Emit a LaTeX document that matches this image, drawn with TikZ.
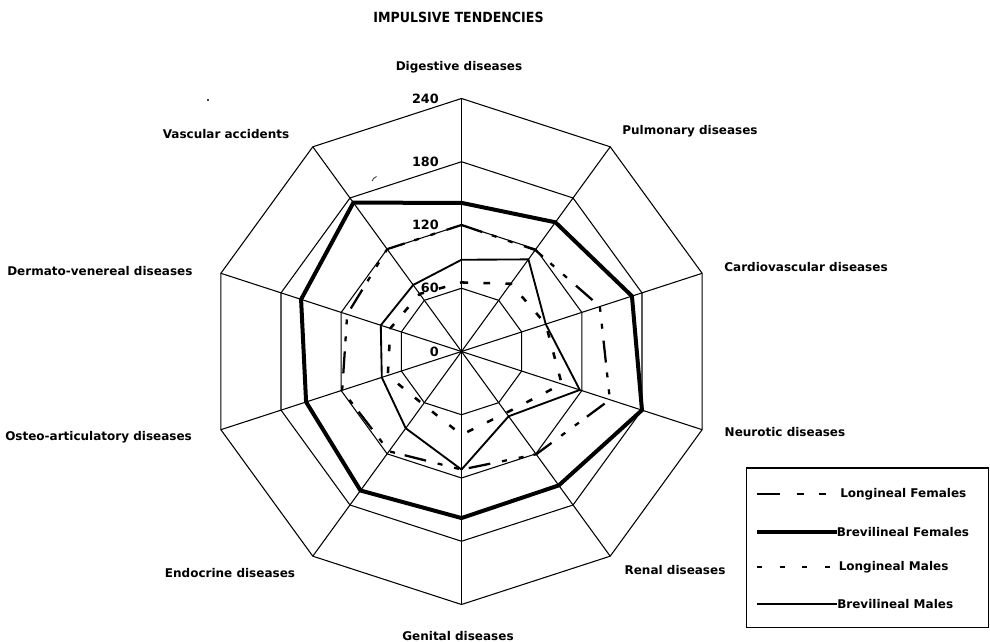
\documentclass[tikz,border=0pt]{standalone}
\usepackage{fontspec}
\setmainfont{DejaVu Sans}
\newfontfamily\titlefont{DejaVu Sans}[FakeStretch=0.9]
\begin{document}
\begin{tikzpicture}[x=0.75pt,y=0.75pt,
  grid/.style={line width=0.8pt, line join=miter},
  bfline/.style={line width=3pt, line join=miter},
  lfline/.style={line width=1.7pt, line join=miter,
    dash pattern=on 16.5pt off 7.5pt on 3.75pt off 9pt on 3.75pt off 9pt},
  lmline/.style={line width=1.9pt, line join=miter, dash pattern=on 5pt off 11.5pt},
  bmline/.style={line width=1.4pt, line join=miter},
  axislabel/.style={font=\fontsize{9}{10}\selectfont\bfseries, inner sep=0pt},
  ringlabel/.style={font=\fontsize{9.6}{10}\selectfont\bfseries, inner sep=0pt, anchor=east},
  legendtext/.style={font=\fontsize{9}{10}\selectfont\bfseries, inner sep=0pt, anchor=west},
]
\useasboundingbox (0,0) rectangle (990,642);

% title
\node[font=\titlefont\fontsize{10.5}{12}\selectfont\bfseries, inner sep=0pt] (title) at (458.5,625) {IMPULSIVE TENDENCIES};

% centre of the radar chart
\coordinate (O) at (461.5,290.5);

\begin{scope}[shift={(O)}, x=0.79065pt, y=0.79065pt]
  % spokes
  \foreach \a in {90,54,...,-234}
    \draw[grid] (0,0) -- (\a:240);
  % rings at 60, 120, 180, 240
  \foreach \rr in {60,120,180,240}
    \draw[grid] (90:\rr) -- (54:\rr) -- (18:\rr) -- (-18:\rr) -- (-54:\rr)
      -- (-90:\rr) -- (-126:\rr) -- (-162:\rr) -- (162:\rr) -- (126:\rr) -- cycle;

  % Brevilineal Females
  \draw[bfline] (90:141) -- (54:151.5) -- (18:170) -- (-18:180) -- (-54:157)
    -- (-90:158) -- (-126:163) -- (-162:155) -- (162:160) -- (126:174.5) -- cycle;
  % Longineal Females
  \draw[lfline] (90:120) -- (54:119) -- (18:138) -- (-18:148) -- (-54:120.5)
    -- (-90:112) -- (-126:117) -- (-162:119) -- (162:114) -- (126:120) -- cycle;
  % Brevilineal Males
  \draw[bmline] (90:87) -- (54:108) -- (18:84) -- (-18:118) -- (-54:76)
    -- (-90:112) -- (-126:90) -- (-162:79.5) -- (162:80.5) -- (126:78) -- cycle;
  % Longineal Males
  \draw[lmline] (90:65.5) -- (54:79.5) -- (18:84) -- (-18:100) -- (-54:72)
    -- (-90:79) -- (-126:62) -- (-162:73.5) -- (162:71) -- (126:67.5) -- cycle;
\end{scope}

% scale values along the top axis
\node[ringlabel] (r240) at (439,543.5) {240};
\node[ringlabel] (r180) at (439,480.2) {180};
\node[ringlabel] (r120) at (439,417) {120};
\node[ringlabel] (r60)  at (439,353.7) {60};
\node[ringlabel] (r0)   at (439,290.5) {0};

% axis names
\node[axislabel] (dig) at (459,575) {Digestive diseases};
\node[axislabel] (pul) at (690,511) {Pulmonary diseases};
\node[axislabel] (car) at (806,375) {Cardiovascular diseases};
\node[axislabel] (neu) at (785,210) {Neurotic diseases};
\node[axislabel] (ren) at (675,72) {Renal diseases};
\node[axislabel] (gen) at (458,6) {Genital diseases};
\node[axislabel] (end) at (230,69) {Endocrine diseases};
\node[axislabel, anchor=west] (ost) at (5,205) {Osteo-articulatory diseases};
\node[axislabel, anchor=west] (der) at (7,371) {Dermato-venereal diseases};
\node[axislabel] (vas) at (226,508) {Vascular accidents};

% stray marks
\fill (208,542) circle (1.1);
\draw[line width=0.5pt] (372,461) to[bend left=20] (376.5,465.5);

% legend
\draw[line width=0.8pt] (746.5,14.7) rectangle (988.5,174);
\node[legendtext] (lgLF) at (840,148) {Longineal Females};
\node[legendtext] (lgBF) at (836.5,110.3) {Brevilineal Females};
\node[legendtext] (lgLM) at (838.5,75) {Longineal Males};
\node[legendtext] (lgBM) at (837,38) {Brevilineal Males};
\coordinate (sLF) at (757,148);
\coordinate (eLF) at (827.5,148);
\coordinate (sBF) at (757,110.3);
\coordinate (sLM) at (757,75);
\coordinate (eLM) at (830.5,75);
\coordinate (sBM) at (757,38);
\draw[lfline, dash pattern=on 17pt off 12.75pt on 5.25pt off 11.25pt on 5.25pt off 20pt]
  (sLF) -- (eLF);
\draw[bfline] (sBF) -- (lgBF.west);
\draw[lmline, dash pattern=on 3.75pt off 13.25pt] (sLM) -- (eLM);
\draw[bmline] (sBM) -- (lgBM.west);
\end{tikzpicture}
\end{document}
